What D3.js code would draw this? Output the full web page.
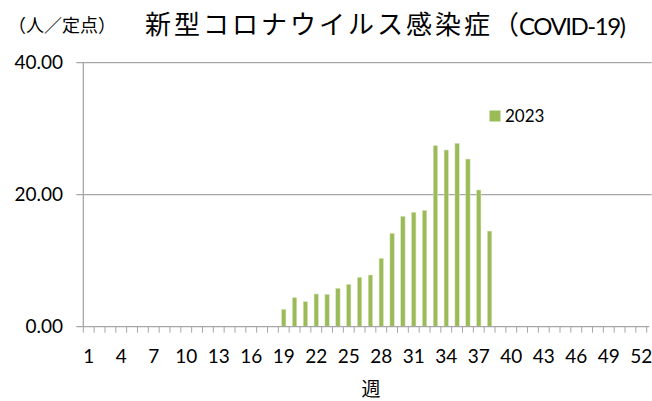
<!DOCTYPE html>
<html>
<head>
<meta charset="utf-8">
<script src="https://cdn.jsdelivr.net/npm/d3@7"></script>
<style>
  body { margin: 0; background: #fff; }
  text { font-family: Lato, "Noto Sans CJK JP", sans-serif; fill: #000; }
  .jp { font-family: "Noto Sans CJK JP", sans-serif; }
</style>
</head>
<body>
<svg width="652" height="401"></svg>
<script>
// weeks 1..52, values for 2023 (人/定点)
const weeks = d3.range(1, 53)
const values2023 = [
  null, null, null, null, null, null, null, null, null, null,
  null, null, null, null, null, null, null, null,
  2.63, 4.39, 3.79, 4.95, 4.90, 5.81, 6.41, 7.47, 7.83, 10.35,
  14.14, 16.72, 17.32, 17.63, 27.42, 26.77, 27.78, 25.40, 20.71, 14.49,
  null, null, null, null, null, null, null, null, null, null, null, null, null, null
]
const yTicks = [0, 20, 40]
const xTickLabels = weeks.filter(w => (w - 1) % 3 === 0)

const svg = d3.select("svg")
const plotL = 83.3, plotR = 646.7, plotT = 62.7, plotB = 326.7

const x = d3.scaleBand().domain(weeks).range([plotL, plotR])
const y = d3.scaleLinear().domain([0, 40]).range([plotB, plotT])

// gridlines
svg.append("g").selectAll("line")
  .data(yTicks.filter(d => d > 0))
  .join("line")
  .attr("x1", plotL - 7).attr("x2", plotR + 5)
  .attr("y1", d => y(d)).attr("y2", d => y(d))
  .attr("stroke", "#a6a6a6").attr("stroke-width", 1.3)

// y axis line
svg.append("line")
  .attr("x1", plotL).attr("x2", plotL)
  .attr("y1", plotT).attr("y2", plotB)
  .attr("stroke", "#a6a6a6").attr("stroke-width", 1.3)

// bars
const data = weeks.map((w, i) => ({ week: w, value: values2023[i] })).filter(d => d.value != null)
const bw = x.bandwidth() * 0.4
svg.append("g").selectAll("rect")
  .data(data)
  .join("rect")
  .attr("x", d => x(d.week) + (x.bandwidth() - bw) / 2)
  .attr("width", bw)
  .attr("y", d => y(d.value))
  .attr("height", d => y(0) - y(d.value))
  .attr("fill", "#9bbb59")
  .attr("stroke", "#d7e4bd").attr("stroke-width", 0.5)

// x axis
svg.append("line")
  .attr("x1", plotL - 7).attr("x2", plotR + 2.5)
  .attr("y1", plotB).attr("y2", plotB)
  .attr("stroke", "#a6a6a6").attr("stroke-width", 1.3)
svg.append("g").selectAll("line")
  .data(d3.range(0, 53))
  .join("line")
  .attr("x1", i => plotL + i * x.step()).attr("x2", i => plotL + i * x.step())
  .attr("y1", plotB).attr("y2", plotB + 6)
  .attr("stroke", "#a6a6a6").attr("stroke-width", 1)

svg.append("g").selectAll("text")
  .data(xTickLabels)
  .join("text")
  .attr("x", d => x(d) + x.bandwidth() / 2)
  .attr("y", 363)
  .attr("text-anchor", "middle")
  .style("font-size", "19px")
  .text(d => d)

// y labels
svg.append("g").selectAll("text")
  .data(yTicks)
  .join("text")
  .attr("x", 63)
  .attr("y", d => y(d) + 6)
  .attr("text-anchor", "end")
  .style("font-size", "19px")
  .text(d => d.toFixed(2))

// axis title
svg.append("text").attr("class", "jp")
  .attr("x", 371).attr("y", 396)
  .attr("text-anchor", "middle")
  .style("font-size", "19px")
  .text("週")

// titles
svg.append("text").attr("class", "jp")
  .attr("x", 8).attr("y", 32)
  .style("font-size", "18px")
  .text("（人／定点）")
const title = svg.append("text")
  .attr("x", 145).attr("y", 34)
  .style("font-size", "26px")
title.append("tspan").attr("class", "jp")
  .style("letter-spacing", "3px")
  .text("新型コロナウイルス感染症")
title.append("tspan").attr("class", "jp")
  .text("（")
title.append("tspan")
  .attr("dx", 0).attr("dy", 1)
  .attr("textLength", 107)
  .style("font-size", "24px")
  .text("COVID-19)")

// legend
svg.append("rect")
  .attr("x", 489.5).attr("y", 110.5).attr("width", 11).attr("height", 11)
  .attr("fill", "#9bbb59")
svg.append("text")
  .attr("x", 505).attr("y", 121.5)
  .style("font-size", "17px")
  .text("2023")
</script>
</body>
</html>
